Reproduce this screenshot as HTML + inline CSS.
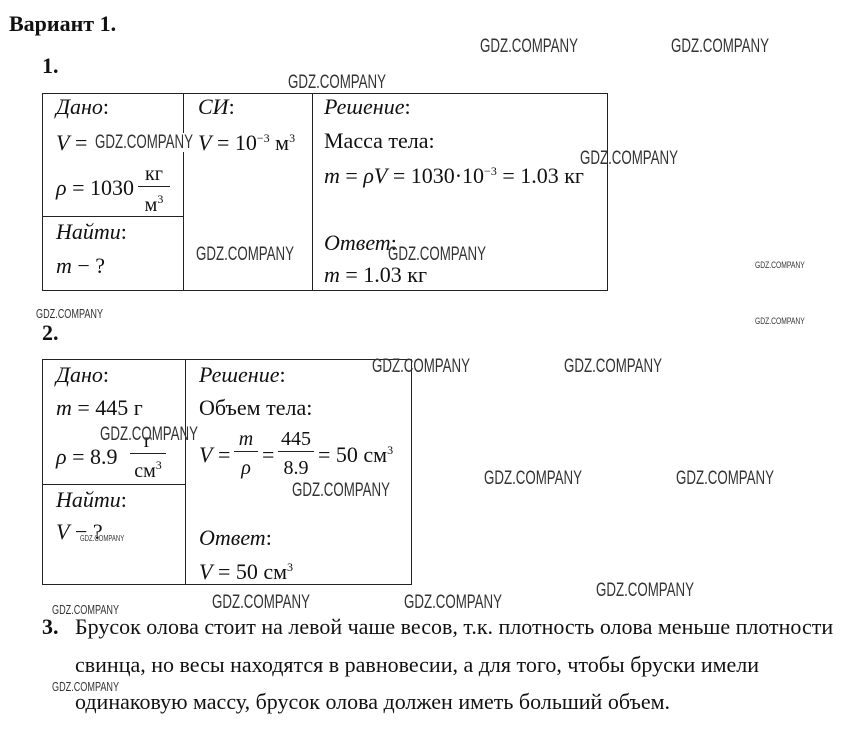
<!DOCTYPE html>
<html><head><meta charset="utf-8"><style>
body{margin:0;width:843px;height:731px;background:#fff;position:relative;overflow:hidden;font-family:"Liberation Serif",serif;color:#111}
.a{position:absolute;white-space:nowrap;font-size:22px;line-height:1}
.i{font-style:italic}
.b{position:absolute;border:1px solid #222}
.l{position:absolute;background:#222}
.w{position:absolute;white-space:nowrap;font-family:"Liberation Sans Narrow","Liberation Sans",sans-serif;font-size:19px;color:#333;line-height:1;transform:scaleX(0.70);transform-origin:left top}
.ws{position:absolute;white-space:nowrap;font-family:"Liberation Sans Narrow","Liberation Sans",sans-serif;font-size:9px;color:#333;line-height:1;transform:scaleX(0.75);transform-origin:left top}
sup{font-size:12px;vertical-align:8px}
.fr{position:absolute;text-align:center;font-size:20px;line-height:1}
</style></head><body>
<div class="a" style="left:9px;top:13px;font-weight:bold">Вариант 1.</div>
<div class="a" style="left:42px;top:55px;font-weight:bold">1.</div>

<div class="b" style="left:42px;top:93px;width:564px;height:196px"></div>
<div class="l" style="left:183px;top:93px;width:1px;height:197px"></div>
<div class="l" style="left:312px;top:93px;width:1px;height:197px"></div>
<div class="l" style="left:42px;top:216px;width:141px;height:1px"></div>

<div class="a i" style="left:56px;top:96px">Дано<span style="font-style:normal">:</span></div>
<div class="a" style="left:56px;top:132px"><i>V</i> = 1 л</div>
<div class="a" style="left:56px;top:177px"><i>ρ</i> = 1030</div>
<div class="fr" style="left:138px;top:164px;width:32px;border-bottom:1px solid #222;padding-bottom:2px">кг</div>
<div class="fr" style="left:138px;top:193px;width:32px">м<sup>3</sup></div>
<div class="a i" style="left:56px;top:221px">Найти<span style="font-style:normal">:</span></div>
<div class="a" style="left:56px;top:255px"><i>m</i> − ?</div>

<div class="a i" style="left:198px;top:96px">СИ<span style="font-style:normal">:</span></div>
<div class="a" style="left:198px;top:132px"><i>V</i> = 10<sup>−3</sup> м<sup>3</sup></div>

<div class="a i" style="left:324px;top:96px">Решение<span style="font-style:normal">:</span></div>
<div class="a" style="left:324px;top:130px">Масса тела:</div>
<div class="a" style="left:324px;top:165px"><i>m</i> = <i>ρV</i> = 1030·10<sup>−3</sup> = 1.03 кг</div>
<div class="a i" style="left:324px;top:232px">Ответ<span style="font-style:normal">:</span></div>
<div class="a" style="left:324px;top:264px"><i>m</i> = 1.03 кг</div>

<div class="a" style="left:42px;top:322px;font-weight:bold">2.</div>
<div class="b" style="left:42px;top:359px;width:368px;height:224px"></div>
<div class="l" style="left:185px;top:359px;width:1px;height:225px"></div>
<div class="l" style="left:42px;top:484px;width:143px;height:1px"></div>

<div class="a i" style="left:56px;top:364px">Дано<span style="font-style:normal">:</span></div>
<div class="a" style="left:56px;top:397px"><i>m</i> = 445 г</div>
<div class="a" style="left:56px;top:446px"><i>ρ</i> = 8.9</div>
<div class="fr" style="left:130px;top:431px;width:36px;border-bottom:1px solid #222;padding-bottom:2px">г</div>
<div class="fr" style="left:130px;top:459px;width:36px">см<sup>3</sup></div>
<div class="a i" style="left:56px;top:489px">Найти<span style="font-style:normal">:</span></div>
<div class="a" style="left:56px;top:521px"><i>V</i> − ?</div>

<div class="a i" style="left:199px;top:364px">Решение<span style="font-style:normal">:</span></div>
<div class="a" style="left:199px;top:397px">Объем тела:</div>
<div class="a" style="left:199px;top:444px"><i>V</i> =</div>
<div class="fr i" style="left:234px;top:429px;width:24px;border-bottom:1px solid #222;padding-bottom:2px">m</div>
<div class="fr i" style="left:234px;top:458px;width:24px">ρ</div>
<div class="a" style="left:262px;top:444px">=</div>
<div class="fr" style="left:278px;top:429px;width:36px;border-bottom:1px solid #222;padding-bottom:2px">445</div>
<div class="fr" style="left:278px;top:458px;width:36px">8.9</div>
<div class="a" style="left:318px;top:444px">= 50 см<sup>3</sup></div>
<div class="a i" style="left:199px;top:527px">Ответ<span style="font-style:normal">:</span></div>
<div class="a" style="left:199px;top:561px"><i>V</i> = 50 см<sup>3</sup></div>

<div class="a" style="left:42px;top:616px;font-weight:bold">3.</div>
<div class="a" style="left:75px;top:616px">Брусок олова стоит на левой чаше весов, т.к. плотность олова меньше плотности</div>
<div class="a" style="left:75px;top:654px">свинца, но весы находятся в равновесии, а для того, чтобы бруски имели</div>
<div class="a" style="left:75px;top:691px">одинаковую массу, брусок олова должен иметь больший объем.</div>

<div class="w" style="left:480px;top:37px">GDZ.COMPANY</div>
<div class="w" style="left:671px;top:37px">GDZ.COMPANY</div>
<div class="w" style="left:288px;top:73px">GDZ.COMPANY</div>
<div class="w" style="left:95px;top:133px;background:#fff">GDZ.COMPANY</div>
<div class="w" style="left:580px;top:149px">GDZ.COMPANY</div>
<div class="w" style="left:196px;top:245px">GDZ.COMPANY</div>
<div class="w" style="left:388px;top:245px">GDZ.COMPANY</div>
<div class="ws" style="left:755px;top:261px">GDZ.COMPANY</div>
<div class="ws" style="left:755px;top:317px">GDZ.COMPANY</div>
<div class="w" style="left:36px;top:307px;font-size:13px">GDZ.COMPANY</div>
<div class="w" style="left:372px;top:357px">GDZ.COMPANY</div>
<div class="w" style="left:564px;top:357px">GDZ.COMPANY</div>
<div class="w" style="left:100px;top:425px">GDZ.COMPANY</div>
<div class="w" style="left:292px;top:481px">GDZ.COMPANY</div>
<div class="w" style="left:484px;top:469px">GDZ.COMPANY</div>
<div class="w" style="left:676px;top:469px">GDZ.COMPANY</div>
<div class="ws" style="left:80px;top:535px;font-size:8px">GDZ.COMPANY</div>
<div class="w" style="left:596px;top:581px">GDZ.COMPANY</div>
<div class="w" style="left:212px;top:593px">GDZ.COMPANY</div>
<div class="w" style="left:404px;top:593px">GDZ.COMPANY</div>
<div class="w" style="left:52px;top:603px;font-size:13px">GDZ.COMPANY</div>
<div class="w" style="left:52px;top:680px;font-size:13px">GDZ.COMPANY</div>
</body></html>
